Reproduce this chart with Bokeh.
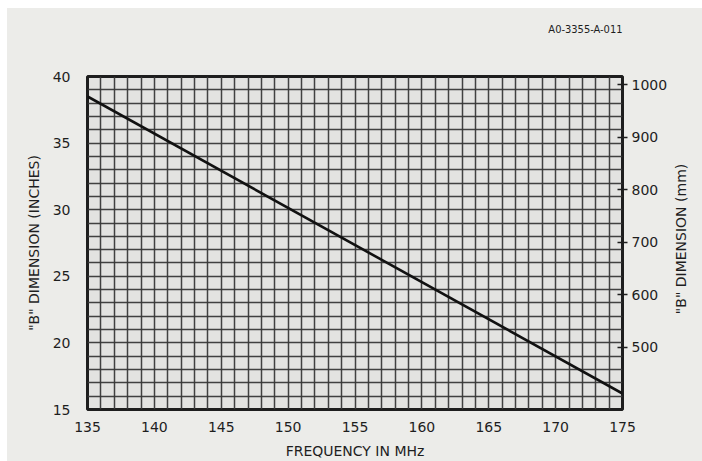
import math
from bokeh.plotting import figure
from bokeh.models import LinearAxis, Range1d, FixedTicker, Spacer, Title
from bokeh.core.properties import value
from bokeh.layouts import row, column
from bokeh.embed import file_html
from bokeh.resources import INLINE

# Data
freq_mhz = [135, 175]
b_inches = [38.5, 16.2]

x_ticks = [135, 140, 145, 150, 155, 160, 165, 170, 175]
y_ticks = [15, 20, 25, 30, 35, 40]
mm_ticks = [500, 600, 700, 800, 900, 1000]
grid_x = list(range(135, 176))
grid_y = list(range(15, 41))
right_label = '"B" DIMENSION (mm)'

FONT = "DejaVu Sans"
INK = "#1e1e1e"
PAPER = "#ecece9"
CELL = "#e3e3e1"

p = figure(width=663, height=453, output_backend="svg", toolbar_location=None,
           x_range=Range1d(135, 175), y_range=Range1d(15, 40),
           min_border_left=80, min_border_right=45, min_border_top=68, min_border_bottom=45,
           title="A0-3355-A-011")
p.background_fill_color = CELL
p.border_fill_color = PAPER
p.outline_line_color = INK
p.outline_line_width = 3

# spacer title (sits between the frame and the drawing number)
p.add_layout(Title(text=" ", text_font_size="1px", standoff=38), "above")

p.title.align = "right"
p.title.text_font = "DejaVu Sans Condensed"
p.title.text_font_size = "11px"
p.title.text_font_style = "normal"
p.title.text_color = INK
p.title.standoff = 0

p.extra_y_ranges = {"mm": Range1d(15 * 25.4, 40 * 25.4)}

# grid
p.xgrid.ticker = FixedTicker(ticks=grid_x)
p.ygrid.ticker = FixedTicker(ticks=grid_y)
for g in (p.xgrid, p.ygrid):
    g.grid_line_color = "#383838"
    g.grid_line_width = 1.5
    g.grid_line_alpha = 0.95

# x axis
xa = p.xaxis[0]
xa.ticker = FixedTicker(ticks=x_ticks)
xa.axis_label = "FREQUENCY IN MHz"
xa.axis_line_color = None
xa.major_tick_line_color = None
xa.minor_tick_line_color = None
xa.major_label_standoff = 6
xa.axis_label_standoff = 8

# left axis
ya = p.yaxis[0]
ya.ticker = FixedTicker(ticks=y_ticks)
ya.axis_label = '"B" DIMENSION (INCHES)'
ya.axis_line_color = None
ya.major_tick_line_color = None
ya.minor_tick_line_color = None
ya.major_label_standoff = 11
ya.axis_label_standoff = 8

# right axis (mm)
ra = LinearAxis(y_range_name="mm", ticker=FixedTicker(ticks=mm_ticks))
ra.axis_line_color = None
ra.major_tick_line_color = INK
ra.major_tick_line_width = 1.5
ra.major_tick_in = 5
ra.major_tick_out = 5
ra.minor_tick_line_color = None
ra.major_label_standoff = 4
p.add_layout(ra, "right")

for ax in (xa, ya, ra):
    ax.major_label_text_font = FONT
    ax.major_label_text_font_size = "14px"
    ax.major_label_text_color = INK
    ax.axis_label_text_font = FONT
    ax.axis_label_text_font_size = "14px"
    ax.axis_label_text_font_style = "normal"
    ax.axis_label_text_color = INK

# the curve
p.line(freq_mhz, b_inches, line_color="#111111", line_width=2.6)

# narrow strip carrying the right-hand axis title (reads bottom to top)
s = figure(width=32, height=453, output_backend="svg", toolbar_location=None,
           x_range=Range1d(0, 32), y_range=Range1d(0, 453),
           min_border=0, x_axis_type=None, y_axis_type=None)
s.background_fill_color = PAPER
s.border_fill_color = PAPER
s.outline_line_color = None
s.grid.visible = False
s.text(x=[10], y=[232], text=[right_label], angle=math.pi / 2,
       text_align="center", text_baseline="middle",
       text_font=value(FONT), text_font_size="14px", text_color=INK)

inner = row(p, s, styles={"background-color": PAPER})
page = row(Spacer(width=7, height=461, background="white"),
           column(Spacer(width=695, height=8, background="white"), inner))

open("out.html", "w").write(file_html(page, INLINE))
